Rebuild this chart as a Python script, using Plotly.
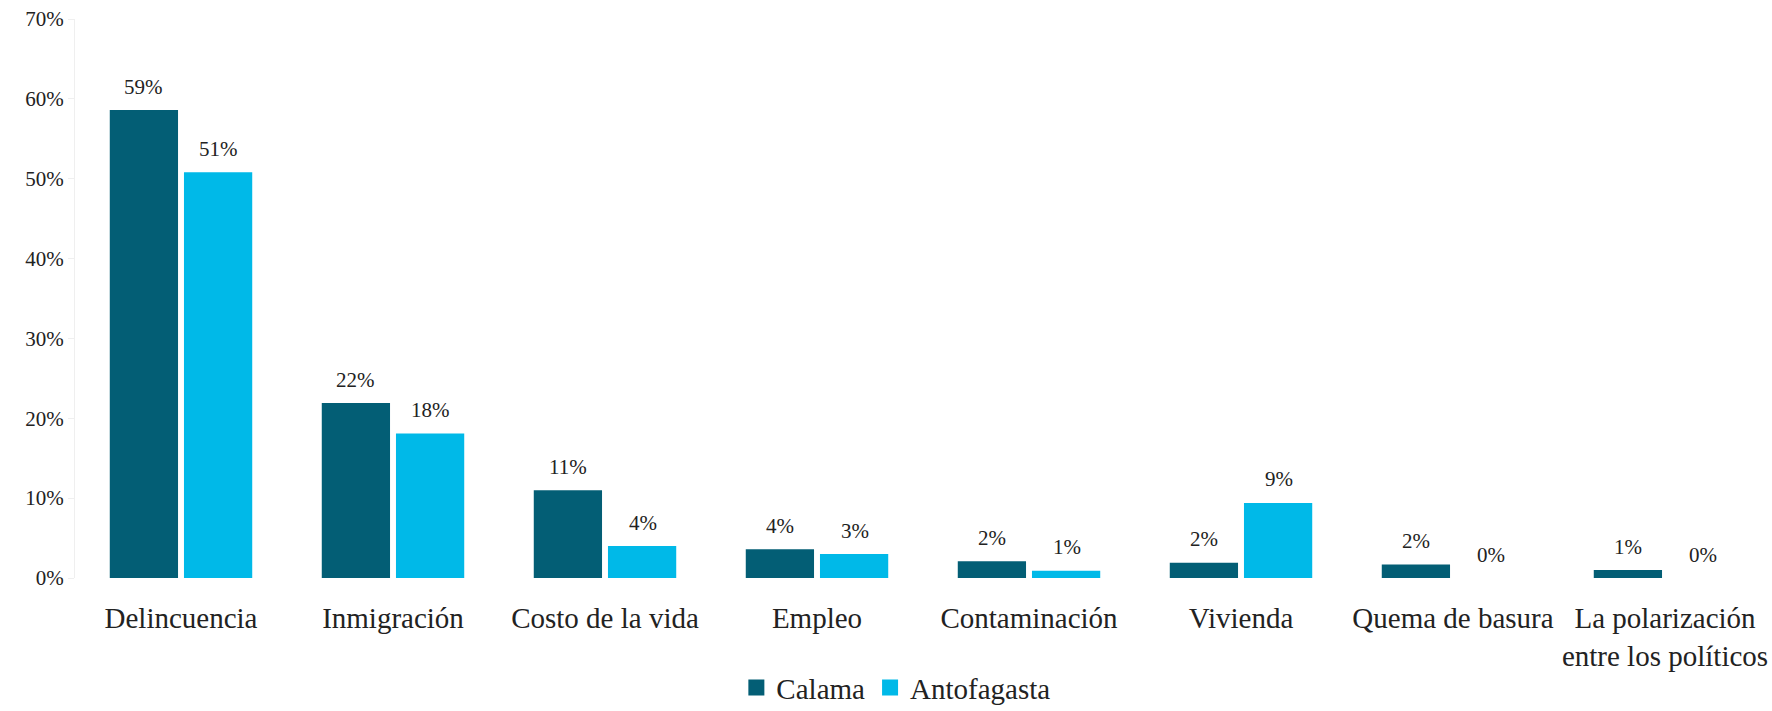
import plotly.graph_objects as go

categories = ["Delincuencia", "Inmigración", "Costo de la vida", "Empleo",
              "Contaminación", "Vivienda", "Quema de basura",
              "La polarización<br>entre los políticos"]
calama = [58.6, 21.9, 11.0, 3.6, 2.1, 1.9, 1.7, 1.0]
antofagasta = [50.8, 18.1, 4.0, 3.0, 0.9, 9.4, 0.0, 0.0]
calama_labels = ["59%", "22%", "11%", "4%", "2%", "2%", "2%", "1%"]
antofagasta_labels = ["51%", "18%", "4%", "3%", "1%", "9%", "0%", "0%"]
y_ticks = [0, 10, 20, 30, 40, 50, 60, 70]
y_tick_labels = ["0%", "10%", "20%", "30%", "40%", "50%", "60%", "70%"]

FONT = "Liberation Serif"
C1 = "#035E75"
C2 = "#00B9E8"

fig = go.Figure()
fig.add_trace(go.Bar(name="Calama", x=categories, y=calama, marker_color=C1,
                     marker_line_width=0, showlegend=False))
fig.add_trace(go.Bar(name="Antofagasta", x=categories, y=antofagasta, marker_color=C2,
                     marker_line_width=0, showlegend=False))
# legend entries with larger square swatches
for name, col in [("Calama", C1), ("Antofagasta", C2)]:
    fig.add_trace(go.Scatter(name=name, x=[None], y=[None], mode="markers",
                             marker=dict(symbol="square", size=17, color=col),
                             showlegend=True))

annotations = []
for cat, v, t in zip(categories, calama, calama_labels):
    annotations.append(dict(x=cat, y=v, text=t, showarrow=False, xshift=-37.5, yshift=23.5,
                            yanchor="middle", xanchor="center",
                            font=dict(family=FONT, size=21, color="#222")))
for cat, v, t in zip(categories, antofagasta, antofagasta_labels):
    annotations.append(dict(x=cat, y=v, text=t, showarrow=False, xshift=37.5, yshift=23.5,
                            yanchor="middle", xanchor="center",
                            font=dict(family=FONT, size=21, color="#222")))

fig.update_layout(
    width=1772, height=711,
    margin=dict(l=75, r=1, t=19, b=133, autoexpand=False),
    paper_bgcolor="white", plot_bgcolor="white",
    barmode="group", bargap=0.3, bargroupgap=0.08,
    font=dict(family=FONT, color="#222"),
    annotations=annotations,
    showlegend=True,
    legend=dict(orientation="h", x=0.484, xanchor="center", y=-0.196, yanchor="middle",
                font=dict(family=FONT, size=29, color="#222"), itemwidth=30,
                tracegroupgap=0),
)
fig.update_xaxes(showline=False, showgrid=False, ticks="", tickfont=dict(family=FONT, size=29, color="#222"),
                 tickangle=0, ticklabelstandoff=20, automargin=False)
fig.update_yaxes(range=[0, 70], tickmode="array", tickvals=y_ticks, ticktext=y_tick_labels,
                 showgrid=False,
                 showline=True, linecolor="#EFEFEF", linewidth=1, ticks="outside",
                 ticklen=6, tickcolor="#EFEFEF", zeroline=False,
                 tickfont=dict(family=FONT, size=21, color="#222"), automargin=False)

fig.write_html("out.html", config={"displayModeBar": False},
               post_script="document.body.style.margin='0';")
